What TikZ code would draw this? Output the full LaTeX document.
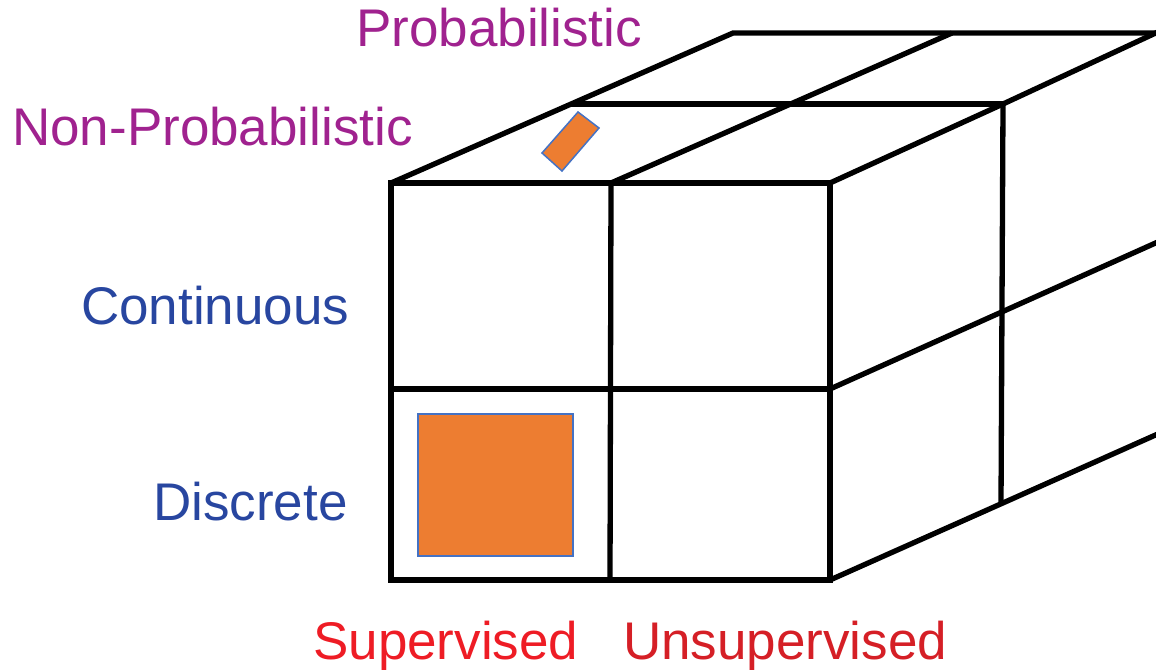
\documentclass[tikz,border=0pt]{standalone}
\usepackage{fontspec}
\setmainfont{Liberation Sans}
\definecolor{probc}{HTML}{A0228F}
\definecolor{axisblue}{HTML}{2846A0}
\definecolor{supred}{HTML}{EE1C25}
\definecolor{unsred}{HTML}{D51F26}
\definecolor{orangefill}{HTML}{ED7D31}
\definecolor{edgeblue}{HTML}{4472C4}
\tikzset{
  edge/.style={line width=5.3pt, black, line join=miter},
  lab/.style={inner sep=0pt, anchor=base west, font=\fontsize{53}{60}\selectfont},
  marker/.style={fill=orangefill, draw=edgeblue, line width=1.5pt}
}
\begin{document}
\begin{tikzpicture}[x=1pt,y=-1pt]
\useasboundingbox (0,0) rectangle (1156,671);
\clip (0,0) rectangle (1156,671);
% cube corners
\coordinate (ftl) at (391,183);
\coordinate (ftr) at (830,183);
\coordinate (fbl) at (391,580);
\coordinate (fbr) at (830,580);
\coordinate (ftm) at (611,183);
\coordinate (fbm) at (610,580);
\coordinate (fml) at (391,389);
\coordinate (fmr) at (830,389);
\coordinate (mtl) at (571,104);
\coordinate (mtr) at (1003,104);
\coordinate (mbr) at (1001,503);
\coordinate (btl) at (733,33);
\coordinate (btr) at (1160,31);
\coordinate (btm) at (952,33);
\coordinate (bmr) at (1160,241);
\coordinate (bbr) at (1160,433);
% front face
\draw[edge] (ftl) rectangle (fbr);
\draw[edge] (ftm) -- (fbm);
\draw[edge] (fml) -- (fmr);
% top face
\draw[edge] (ftl) -- (btl) -- (1160,33);
\draw[edge] (mtl) -- (mtr);
\draw[edge] (ftm) -- (btm);
\draw[edge] (ftr) -- (mtr) -- (btr);
% right face
\draw[edge] (mtr) -- (mbr);
\draw[edge] (fmr) -- (bmr);
\draw[edge] (fbr) -- (bbr);
% markers
\draw[marker] (418,414) rectangle (573,556);
\draw[marker] (578,112) -- (599,128) -- (562,171) -- (542,153) -- cycle;
% labels
\node[lab, text=probc] (prob) at (356,47) {Probabilistic};
\node[lab, text=probc] (nonprob) at (12,146) {Non-Probabilistic};
\node[lab, text=axisblue] (cont) at (81,324) {Continuous};
\node[lab, text=axisblue] (disc) at (153,520) {Discrete};
\node[lab, text=supred] (sup) at (313,659) {Supervised};
\node[lab, text=unsred] (unsup) at (623,659) {Unsupervised};
\end{tikzpicture}
\end{document}
